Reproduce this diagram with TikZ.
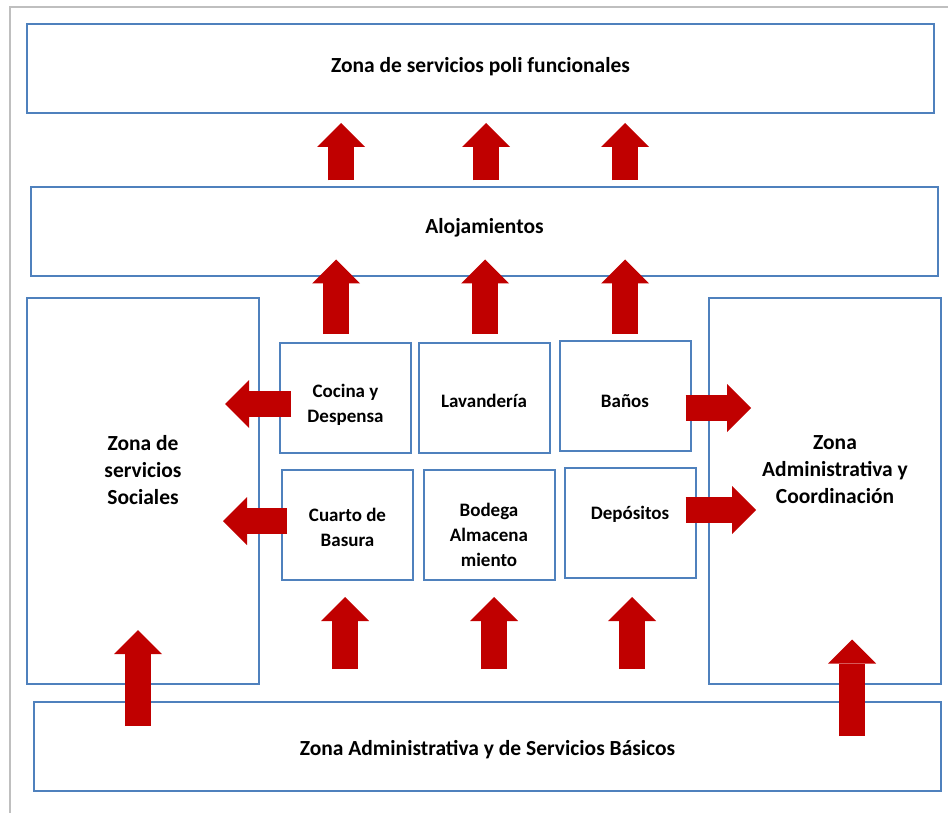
\documentclass[tikz,border=0pt]{standalone}
\usepackage{fontspec}
\setmainfont{Carlito}
\usetikzlibrary{arrows.meta,calc}
\definecolor{boxblue}{RGB}{79,129,189}
\definecolor{arrowred}{RGB}{192,0,0}

\begin{document}
\begin{tikzpicture}[x=0.6pt,y=-0.6pt,
    zona/.style={draw=boxblue,line width=1.2pt,inner sep=0pt},
    texto/.style={align=center,inner sep=0pt,font=\bfseries\fontsize{12.9}{16.2}\selectfont},
    textochico/.style={texto,font=\bfseries\fontsize{11.4}{15}\selectfont},
    ancha/.style={zona,minimum width=544.2pt,minimum height=53.4pt},
    lateral/.style={zona,minimum width=139.2pt,minimum height=231.6pt},
    cuarto/.style={zona,minimum width=78.6pt,minimum height=66pt},
    flecha/.style={draw=arrowred,line width=15.6pt,
      -{Triangle[length=14.4pt,width=28.8pt,line width=0pt]}}]
    \useasboundingbox (0,0) rectangle (948,813);
    \draw[gray!50,line width=1.2pt] (10,813) -- (10,7) -- (948,7);

    \node[ancha,label={[texto,yshift=1.2pt]center:Zona de servicios poli funcionales}] (poli) at (480.5,68.5) {};
    \node[ancha,label={[texto,yshift=2.4pt]center:Alojamientos}] (aloj) at (484.5,232) {};
    \node[lateral,label={[texto,yshift=12.6pt]center:Zona de\\servicios\\Sociales}] (social) at (143,491) {};
    \node[lateral,label={[texto,yshift=12.3pt,xshift=6pt]center:Zona\\Administrativa y\\Coordinación}] (admin) at (825,490.5) {};
    \node[cuarto,label={[textochico,yshift=-4pt]center:Cocina y\\Despensa}] (cocina) at (345.5,398) {};
    \node[cuarto,label={[textochico,yshift=-1.8pt]center:Lavandería}] (lava) at (484,398) {};
    \node[cuarto,label={[textochico,yshift=-3pt]center:Baños}] (banos) at (625,396) {};
    \node[cuarto,label={[textochico,yshift=-1.2pt]center:Cuarto de\\Basura}] (basura) at (347.5,525) {};
    \node[cuarto,label={[textochico,yshift=-5.7pt]center:Bodega\\Almacena\\miento}] (bodega) at (489,525) {};
    \node[cuarto,label={[textochico,yshift=4.8pt]center:Depósitos}] (depo) at (630,522.5) {};
    \node[ancha,label={[texto,yshift=-1.8pt]center:Zona Administrativa y de Servicios Básicos}] (basica) at (487.5,746.5) {};

    \foreach \x in {341,486,625}
      \draw[flecha] ($(\x,0 |- aloj.north)+(0,-6)$) -- ($(\x,0 |- poli.south)+(0,9)$);
    \foreach \x in {336,485,625}
      \draw[flecha] ($(\x,0 |- cocina.north)+(0,-8)$) -- ($(\x,0 |- aloj.south)+(0,-18)$);
    \foreach \x in {345,494,632}
      \draw[flecha] ($(\x,0 |- basica.north)+(0,-32)$) -- ($(\x,0 |- basura.south)+(0,16)$);
    \draw[flecha] ($(138,0 |- basica.north)+(0,25)$) -- ($(138,0 |- social.south)+(0,-55)$);
    \draw[flecha] ($(852,0 |- basica.north)+(0,35)$) -- ($(852,0 |- admin.south)+(0,-45)$);
    \draw[flecha] ($(cocina.west)+(12,6)$) -- ($(social.east |- cocina.west)+(-35,6)$);
    \draw[flecha] ($(basura.west)+(6,-4)$) -- ($(social.east |- basura.west)+(-37,-4)$);
    \draw[flecha] ($(banos.east)+(-6,12)$) -- ($(admin.west |- banos.east)+(43,12)$);
    \draw[flecha] ($(depo.east)+(-11,-12.5)$) -- ($(admin.west |- depo.east)+(48,-12.5)$);
\end{tikzpicture}
\end{document}
